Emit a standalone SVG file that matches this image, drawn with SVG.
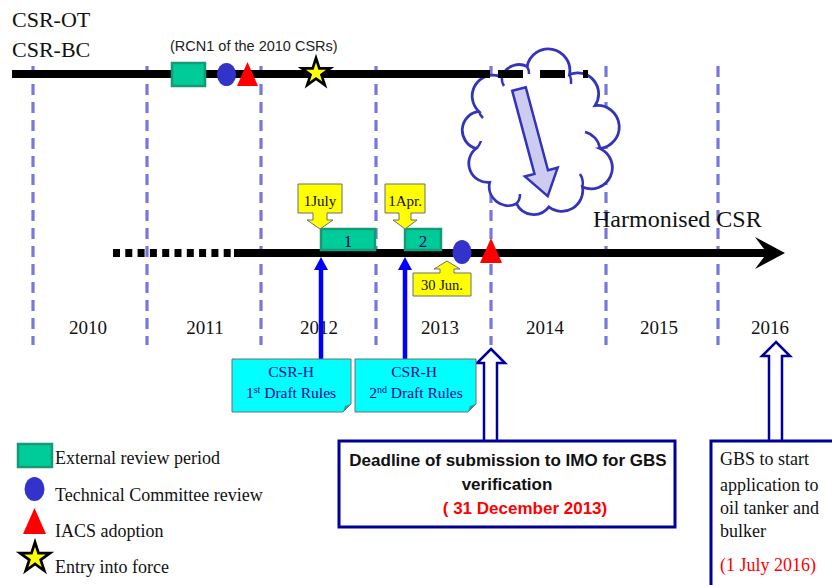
<svg xmlns="http://www.w3.org/2000/svg" width="832" height="585" viewBox="0 0 832 585">
<style>
.serif{font-family:"Liberation Serif","Times New Roman",serif;}
.sans{font-family:"Liberation Sans",Arial,sans-serif;}
.grid{stroke:#7777dd;stroke-width:3.2;stroke-dasharray:11 7;fill:none;}
.bar{stroke:#000;stroke-width:8;fill:none;}
.green{fill:#00cc99;stroke:#159a76;stroke-width:2.5;}
.tc{fill:#3333cc;}
.iacs{fill:#ff0000;}
.star{fill:#ffff00;stroke:#000;stroke-width:2.6;stroke-linejoin:miter;}
.yellow{fill:#ffff00;stroke:#6e6e6e;stroke-width:1;}
.cyan{fill:#00ffff;stroke:#6e6e6e;stroke-width:1;}
.fold{fill:#2a9a9a;}
.hollow{fill:#fff;stroke:#000099;stroke-width:2.5;stroke-linejoin:miter;}
.box{fill:#fff;stroke:#000099;stroke-width:3;}
.blue{stroke:#0000ff;stroke-width:4.5;fill:none;}
.cl{fill:none;stroke:#3333bb;stroke-width:2.5;}
.year{font-size:19px;fill:#111;text-anchor:middle;}
.leg{font-size:18px;fill:#111;}
</style>
<defs>
<path id="starShape" d="M0,-15 L3.35,-4.61 L14.27,-4.63 L5.42,1.76 L8.82,12.14 L0,5.7 L-8.82,12.14 L-5.42,1.76 L-14.27,-4.63 L-3.35,-4.61 Z"/>
</defs>
<rect width="832" height="585" fill="#fff"/>

<g id="grid">
<line class="grid" x1="33" y1="66" x2="33" y2="345"/>
<line class="grid" x1="147" y1="66" x2="147" y2="345"/>
<line class="grid" x1="261" y1="66" x2="261" y2="345"/>
<line class="grid" x1="376" y1="66" x2="376" y2="345"/>
<line class="grid" x1="491" y1="66" x2="491" y2="345"/>
<line class="grid" x1="606" y1="66" x2="606" y2="345"/>
<line class="grid" x1="718" y1="66" x2="718" y2="345"/>
</g>

<g id="cloud">
<path d="M527.1,66.5 A19,19 0 0 1 569.5,74.5 A21,21 0 0 1 595.1,105.5 A21,21 0 0 1 600,148.5 A21,21 0 0 1 582.5,186.9 A21,21 0 0 1 548.9,206.9 A19,19 0 0 1 516.5,203.7 A19,19 0 0 1 489.7,182.3 A19,19 0 0 1 476,148.5 A19,19 0 0 1 478.8,111.4 A21,21 0 0 1 501.9,77 A18,18 0 0 1 527.1,66.5 Z" fill="#fff" stroke="#3333bb" stroke-width="2.8"/>
<path class="cl" d="M501.9,77 A14,14 0 0 0 504,86"/>
<path class="cl" d="M478.8,111.4 A16,16 0 0 0 483,118"/>
<path class="cl" d="M476,148.5 A16,16 0 0 0 481,141"/>
<path class="cl" d="M516.5,203.7 A14,14 0 0 0 520,194"/>
<path class="cl" d="M582.5,186.9 A18,18 0 0 0 580,174"/>
<path class="cl" d="M600,148.5 A20,20 0 0 0 585,132"/>
<path class="cl" d="M569.5,74.5 A16,16 0 0 1 571,84"/>
<path class="cl" d="M527.1,66.5 A14,14 0 0 1 529,74"/>
<polygon points="-7,0 7,0 7,86 17,86 0,111 -17,86 -7,86" transform="translate(519,89) rotate(-15)" fill="#ccccf0" stroke="#3333bb" stroke-width="2.5" stroke-linejoin="miter"/>
</g>

<g id="timelines">
<line class="bar" x1="12" y1="74" x2="490" y2="74"/>
<line class="bar" x1="498" y1="74" x2="588" y2="74" stroke-dasharray="25 17 25 18 5 100"/>
<line class="bar" x1="113" y1="253" x2="232" y2="253" stroke-dasharray="7 5.3"/>
<line class="bar" x1="234" y1="253" x2="768" y2="253"/>
<path d="M755,237 L785,253 L755,269 L767,253 Z" fill="#000"/>
</g>

<g id="labels-top">
<text class="serif" x="12" y="27" font-size="22" fill="#111">CSR-OT</text>
<text class="serif" x="12" y="57" font-size="22" fill="#111">CSR-BC</text>
<text class="sans" x="170" y="51" font-size="14.5" fill="#222">(RCN1 of the 2010 CSRs)</text>
<text class="serif" x="593" y="227" font-size="24" fill="#111">Harmonised CSR</text>
</g>

<g id="node-top-review">
<rect class="green" x="172" y="63" width="33" height="23"/>
</g>
<g id="node-top-tc"><ellipse class="tc" cx="226.5" cy="74.5" rx="9.5" ry="11.5"/></g>
<g id="node-top-iacs"><polygon class="iacs" points="247.5,62 237,86 258,86"/></g>
<g id="node-top-star"><use href="#starShape" class="star" transform="translate(316,73)"/></g>

<g id="node-review-1">
<rect class="green" x="321" y="229" width="54" height="21"/>
<text class="serif" x="348" y="247" font-size="17" fill="#000066" text-anchor="middle">1</text>
</g>
<g id="node-review-2">
<rect class="green" x="405" y="229" width="36" height="21"/>
<text class="serif" x="423" y="247" font-size="17" fill="#000066" text-anchor="middle">2</text>
</g>
<g id="node-tc"><ellipse class="tc" cx="462" cy="252" rx="9.5" ry="12"/></g>
<g id="node-iacs"><polygon class="iacs" points="491,238 480,263 502,263"/></g>

<g id="node-1july">
<path class="yellow" d="M298,184 H342 V213 H327 V220 H333 L320,229 L307,220 H313 V213 H298 Z"/>
<text class="serif" x="320" y="206" font-size="15" fill="#111" text-anchor="middle">1July</text>
</g>
<g id="node-1apr">
<path class="yellow" d="M385,184 H425 V213 H411 V220 H417 L405,229 L393,220 H399 V213 H385 Z"/>
<text class="serif" x="405" y="206" font-size="15" fill="#111" text-anchor="middle">1Apr.</text>
</g>
<g id="node-30jun">
<path class="yellow" d="M413,273 H440 V269 H434 L447,261 L460,269 H454 V273 H471 V296 H413 Z"/>
<text class="serif" x="442" y="290" font-size="14.5" fill="#111" text-anchor="middle">30 Jun.</text>
</g>

<g id="years">
<text class="serif year" x="88" y="334">2010</text>
<text class="serif year" x="205" y="334">2011</text>
<text class="serif year" x="319" y="334">2012</text>
<text class="serif year" x="440" y="334">2013</text>
<text class="serif year" x="545" y="334">2014</text>
<text class="serif year" x="659" y="334">2015</text>
<text class="serif year" x="770" y="334">2016</text>
</g>

<g id="connectors">
<line class="blue" x1="321" y1="360" x2="321" y2="268"/>
<polygon points="321,257 314,270 328,270" fill="#0000ff"/>
<line class="blue" x1="405" y1="360" x2="405" y2="268"/>
<polygon points="405,257 398,270 412,270" fill="#0000ff"/>
<polygon class="hollow" points="491,349 505,363 497,363 497,442 484,442 484,363 477,363"/>
<polygon class="hollow" points="776,342 790,356 782,356 782,442 769,442 769,356 762,356"/>
</g>

<g id="node-csrh-1">
<path class="cyan" d="M232,359 H351 V404 L343,412 H232 Z"/>
<path class="fold" d="M343,412 L345,406 L351,404 Z"/>
<text class="serif" x="291" y="377" font-size="15.5" fill="#000099" text-anchor="middle">CSR-H</text>
<text class="serif" x="291" y="398" font-size="15.5" fill="#000099" text-anchor="middle">1<tspan font-size="10" dy="-5">st</tspan><tspan dy="5"> Draft Rules</tspan></text>
</g>
<g id="node-csrh-2">
<path class="cyan" d="M355,359 H476 V404 L468,412 H355 Z"/>
<path class="fold" d="M468,412 L470,406 L476,404 Z"/>
<text class="serif" x="414" y="377" font-size="15.5" fill="#000099" text-anchor="middle">CSR-H</text>
<text class="serif" x="416" y="398" font-size="15.5" fill="#000099" text-anchor="middle">2<tspan font-size="10" dy="-5">nd</tspan><tspan dy="5">  Draft Rules</tspan></text>
</g>

<g id="node-deadline">
<rect class="box" x="339" y="441" width="336" height="86"/>
<text class="sans" x="508" y="466" font-size="17" font-weight="bold" fill="#111" text-anchor="middle">Deadline of submission to IMO for GBS</text>
<text class="sans" x="507" y="490" font-size="17" font-weight="bold" fill="#111" text-anchor="middle">verification</text>
<text class="sans" x="525" y="514" font-size="17" font-weight="bold" fill="#ff0000" text-anchor="middle">( 31 December 2013)</text>
</g>

<g id="node-gbs">
<rect class="box" x="711" y="441" width="132" height="160"/>
<text class="serif" font-size="18" fill="#111">
<tspan x="720" y="465">GBS to start</tspan>
<tspan x="720" y="491">application  to</tspan>
<tspan x="720" y="514">oil tanker and</tspan>
<tspan x="720" y="537">bulker</tspan>
</text>
<text class="serif" x="720" y="571" font-size="18" fill="#ff0000">(1 July 2016)</text>
</g>

<g id="legend">
<rect class="green" x="18" y="444" width="34" height="23"/>
<text class="serif leg" x="55" y="464">External review period</text>
<ellipse class="tc" cx="34.5" cy="489" rx="10" ry="12"/>
<text class="serif leg" x="55" y="501">Technical Committee review</text>
<polygon class="iacs" points="34.5,508 23,534 46,534"/>
<text class="serif leg" x="55" y="537">IACS adoption</text>
<use href="#starShape" class="star" transform="translate(35,558) scale(1.05)"/>
<text class="serif leg" x="55" y="573">Entry into force</text>
</g>
</svg>
